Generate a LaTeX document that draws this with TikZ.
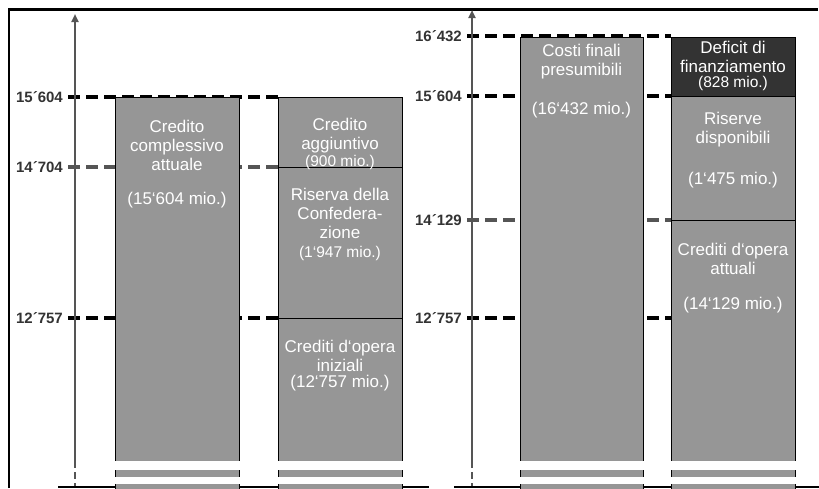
\documentclass[tikz,border=0pt]{standalone}
\usepackage{fontspec}
\setmainfont{Liberation Sans}
\usetikzlibrary{arrows.meta}
\definecolor{bargray}{HTML}{969696}
\definecolor{bardark}{HTML}{333333}
\definecolor{axisgray}{HTML}{555555}
\definecolor{labgray}{HTML}{333333}
\begin{document}
\begin{tikzpicture}[x=1pt,y=-1pt,
  lab/.style={font=\fontsize{15}{17}\selectfont\bfseries, text=labgray, anchor=east, inner sep=0pt},
  refblack/.style={line width=3.5pt, dash pattern=on 12pt off 6pt, black},
  refgray/.style={line width=3.5pt, dash pattern=on 12pt off 6pt, axisgray},
  barbox/.style={fill=bargray, draw=black, line width=0.8pt},
  darkbox/.style={fill=bardark, draw=black, line width=0.8pt},
  divider/.style={draw=black, line width=0.8pt},
  stripe/.style={fill=white},
  bartext/.style={text=white, font=\fontsize{17}{19}\selectfont, align=center, inner sep=0pt},
  smalltext/.style={text=white, font=\fontsize{15.5}{17}\selectfont, align=center, inner sep=0pt},
  axisline/.style={draw=axisgray, line width=2.5pt},
  axisdash/.style={draw=axisgray, line width=2.5pt, dash pattern=on 7pt off 4pt},
  frameline/.style={draw=black, line width=2pt},
  baseline/.style={draw=black, line width=1.5pt}
]
\useasboundingbox (0,0) rectangle (819,488);

% frame
\draw[frameline] (9,488) -- (9,9);
\draw[draw=black, line width=3pt] (8,9.5) -- (818,9.5);

% ---------- left panel ----------
\coordinate (LA0) at (75,461);
\coordinate (LA1) at (75,14);
\coordinate (LAb) at (75,488);
\node[lab] (l15604) at (63,97) {15´604};
\node[lab] (l14704) at (63,167) {14´704};
\node[lab] (l12757) at (63,318) {12´757};
\coordinate (e15604) at (278,97);
\coordinate (e14704) at (278,167);
\coordinate (e12757) at (278,318);
\draw[refblack] ([xshift=5pt]l15604.east) -- (e15604);
\draw[refgray]  ([xshift=5pt]l14704.east) -- (e14704);
\draw[refblack] ([xshift=5pt]l12757.east) -- (e12757);
\draw[axisline, -{Triangle[length=8pt,width=7pt]}] (LA0) -- (LA1);
\draw[axisdash] (LA0) -- (LAb);
\draw[baseline] (58,487) -- (429,487);

% bar 1
\draw[barbox] (115,97) rectangle (239,490);
% bar 2
\draw[barbox] (278,97) rectangle (402,490);
\draw[divider] (278,167) -- (402,167);
\draw[divider] (278,318) -- (402,318);
% stripes
\fill[stripe] (114,461) rectangle (240,470);
\fill[stripe] (114,477) rectangle (240,484);
\fill[stripe] (277,461) rectangle (403,470);
\fill[stripe] (277,477) rectangle (403,484);

\node[bartext] (t1a) at (177,145) {Credito\\complessivo\\attuale};
\node[bartext] (t1b) at (177,200) {(15‘604 mio.)};
\node[bartext] (t2a) at (340,136) {Credito\\aggiuntivo};
\node[smalltext] (t2b) at (340,162) {(900 mio.)};
\node[bartext] (t2c) at (340,213) {Riserva della\\Confedera-\\zione};
\node[smalltext] (t2d) at (340,253) {(1‘947 mio.)};
\node[bartext] (t2e) at (340,356) {Crediti d‘opera\\iniziali};
\node[bartext] (t2f) at (340,383) {(12‘757 mio.)};

% ---------- right panel ----------
\coordinate (RA0) at (472,461);
\coordinate (RA1) at (472,10);
\coordinate (RAb) at (472,488);
\node[lab] (r16432) at (462,36) {16´432};
\node[lab] (r15604) at (462,96) {15´604};
\node[lab] (r14129) at (462,220) {14´129};
\node[lab] (r12757) at (462,318) {12´757};
\coordinate (f16432) at (671,36);
\coordinate (f15604) at (671,96);
\coordinate (f14129) at (671,220);
\coordinate (f12757) at (671,318);
\draw[refblack] ([xshift=5pt]r16432.east) -- (f16432);
\draw[refblack] ([xshift=5pt]r15604.east) -- (f15604);
\draw[refgray]  ([xshift=5pt]r14129.east) -- (f14129);
\draw[refblack] ([xshift=5pt]r12757.east) -- (f12757);
\draw[axisline, -{Triangle[length=8pt,width=7pt]}] (RA0) -- (RA1);
\draw[axisdash] (RA0) -- (RAb);
\draw[baseline] (454,487) -- (819,487);

% bar 3
\draw[barbox] (520,37) rectangle (643,490);
% bar 4
\draw[barbox] (671,37) rectangle (795,490);
\draw[darkbox] (671,37) rectangle (795,96);
\draw[divider] (671,220) -- (795,220);
\fill[stripe] (519,461) rectangle (644,470);
\fill[stripe] (519,477) rectangle (644,484);
\fill[stripe] (670,461) rectangle (796,470);
\fill[stripe] (670,477) rectangle (796,484);

\node[bartext] (t3a) at (581.5,62) {Costi finali\\presumibili};
\node[bartext] (t3b) at (581.5,110) {(16‘432 mio.)};
\node[bartext] (t4a) at (733,57) {Deficit di\\finanziamento};
\node[smalltext] (t4b) at (733,83) {(828 mio.)};
\node[bartext] (t4c) at (733,130) {Riserve\\disponibili};
\node[bartext] (t4d) at (733,180) {(1‘475 mio.)};
\node[bartext] (t4e) at (733,259) {Crediti d‘opera\\attuali};
\node[bartext] (t4f) at (733,305) {(14‘129 mio.)};
\end{tikzpicture}
\end{document}
